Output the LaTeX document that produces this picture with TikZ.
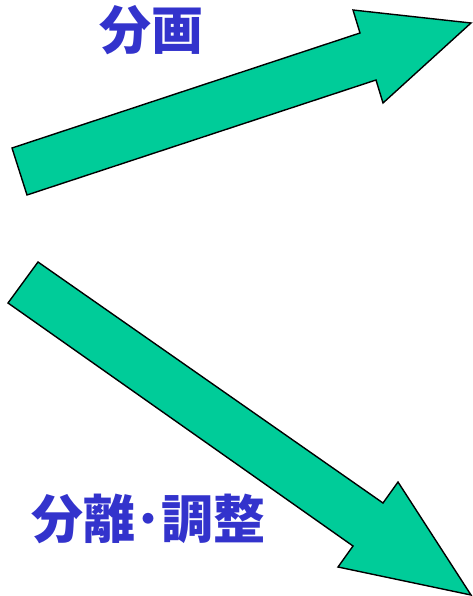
\documentclass[tikz,border=0pt]{standalone}
\usepackage{fontspec}
\newfontfamily\cjk{Noto Sans CJK JP}
\definecolor{arrowgreen}{HTML}{00CC99}
\definecolor{labelblue}{HTML}{3333CC}
\begin{document}
\begin{tikzpicture}[x=1pt,y=-1pt,
  bigarrow/.style={fill=arrowgreen,draw=black,line width=1.4pt,line join=miter},
  lbl/.style={inner sep=0pt,text=labelblue,font=\cjk\bfseries\fontsize{52}{58}\selectfont}]
\useasboundingbox (0,0) rectangle (472,596);
% upper arrow
\draw[bigarrow] (27,195) -- (12,148) -- (360,33) -- (353,10) -- (471,23)
  -- (383,103) -- (376,80) -- cycle;
% lower arrow
\draw[bigarrow] (38,262) -- (8,303) -- (353,546) -- (338,567) -- (471,595)
  -- (398,482) -- (383,503) -- cycle;
\node[lbl] (t1) at (151.5,30) {分画};
\node[lbl] (t2) at (148,519) {分離･調整};
\end{tikzpicture}
\end{document}
